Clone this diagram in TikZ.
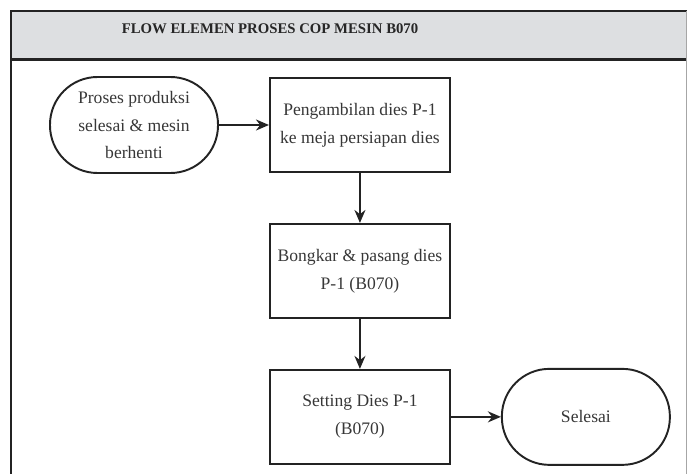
\documentclass[tikz,border=0pt]{standalone}
\usepackage{fontspec}
\setmainfont{Liberation Serif}
\usepackage{tikz}
\usetikzlibrary{arrows.meta,positioning}
\definecolor{HeaderGray}{RGB}{221,223,225}
\definecolor{LineDark}{RGB}{35,35,35}
\definecolor{TextGray}{RGB}{55,55,55}

\begin{document}
\begin{tikzpicture}[
  box/.style={rectangle,draw=LineDark,line width=1.1pt,minimum width=3.6cm,minimum height=1.88cm,
              align=center,font=\fontsize{10}{15.8}\selectfont,text=TextGray},
  term/.style={box,rounded corners=0.95cm,minimum width=3.36cm,minimum height=1.92cm},
  arr/.style={-{Stealth[length=2.6mm,width=2.2mm]},line width=1.1pt,LineDark}
]
  \useasboundingbox (0,0) rectangle (13.78,-9.48);
  % frame and header band
  \fill[HeaderGray] (0.22,-0.22) rectangle (13.73,-1.19);
  \draw[LineDark,line width=1.5pt] (0.22,-9.7) -- (0.22,-0.22) -- (13.73,-0.22);
  \draw[LineDark,line width=1.5pt] (0.22,-1.19) -- (13.73,-1.19);
  \draw[black!35,line width=0.6pt] (13.73,-0.22) -- (13.73,-9.7);
  \node[font=\bfseries\fontsize{8.4}{10}\selectfont,text=black!85] (title) at (5.4,-0.58)
    {FLOW ELEMEN PROSES COP MESIN B070};
  % flow
  \node[term] (start) at (2.68,-2.5) {Proses produksi\\selesai \& mesin\\berhenti};
  \node[box,right=1cm of start]    (ambil)   {Pengambilan dies P-1\\ke meja persiapan dies};
  \node[box,below=1cm of ambil]    (bongkar) {Bongkar \& pasang dies\\P-1 (B070)};
  \node[box,below=1cm of bongkar]  (setting) {Setting Dies P-1\\(B070)};
  \node[term,right=1cm of setting] (selesai) {Selesai};
  \draw[arr](start)--(ambil); \draw[arr](ambil)--(bongkar);
  \draw[arr](bongkar)--(setting); \draw[arr](setting)--(selesai);
\end{tikzpicture}
\end{document}
